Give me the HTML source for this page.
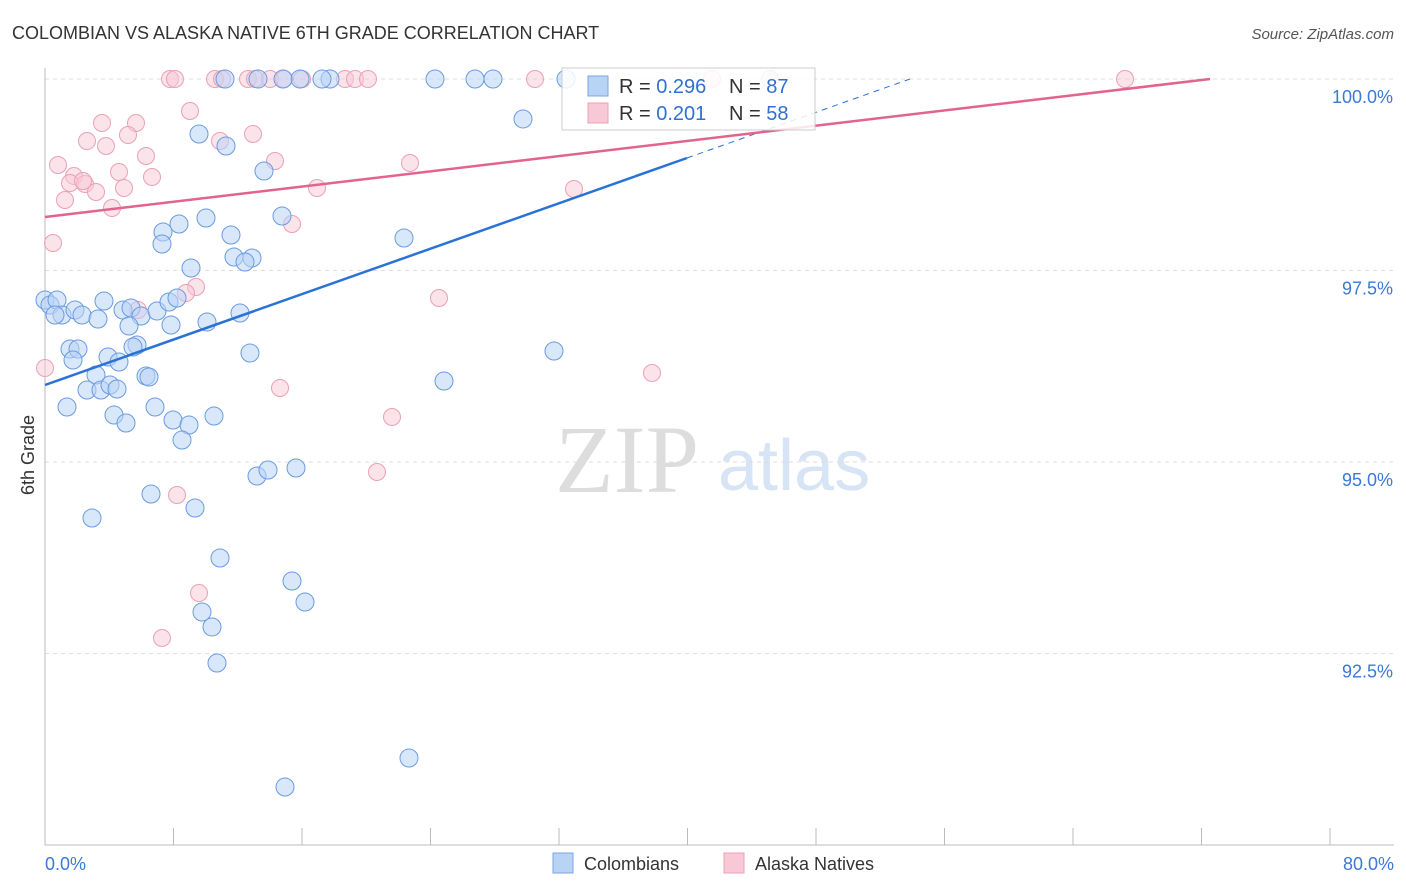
<!DOCTYPE html>
<html><head><meta charset="utf-8"><style>
body{margin:0;background:#fff;font-family:"Liberation Sans",sans-serif;}
</style></head><body>
<svg width="1406" height="892" id="chart" style="display:block">
<text x="12" y="39" font-size="18" fill="#333">COLOMBIAN VS ALASKA NATIVE 6TH GRADE CORRELATION CHART</text>
<text x="1394" y="39" font-size="15" fill="#555" text-anchor="end" font-style="italic">Source: ZipAtlas.com</text>
<text x="34" y="455" font-size="18" fill="#333" transform="rotate(-90 34 455)" text-anchor="middle">6th Grade</text>
<text x="555" y="492" font-size="96" fill="#ddd" font-family="Liberation Serif,serif">ZIP</text>
<text x="718" y="490" font-size="72" fill="#d6e4f5">atlas</text>
<g id="grid"></g><g id="axes"></g><g id="pts"></g><g id="lines"></g>
<g>
<rect x="562" y="68" width="253" height="62" fill="#fff" fill-opacity="0.85" stroke="#ccc"/>
<rect x="588" y="76" width="20" height="20" fill="#b9d3f5" stroke="#7aa6e0"/>
<text x="619" y="93" font-size="20" fill="#333">R = <tspan fill="#3070d0">0.296</tspan></text>
<text x="729" y="93" font-size="20" fill="#333">N = <tspan fill="#3070d0">87</tspan></text>
<rect x="588" y="103" width="20" height="20" fill="#f8c8d6" stroke="#eba0b6"/>
<text x="619" y="120" font-size="20" fill="#333">R = <tspan fill="#3070d0">0.201</tspan></text>
<text x="729" y="120" font-size="20" fill="#333">N = <tspan fill="#3070d0">58</tspan></text>
</g>
<g>
<rect x="553" y="853" width="20" height="20" fill="#b9d3f5" stroke="#7aa6e0"/>
<text x="584" y="870" font-size="18" fill="#333">Colombians</text>
<rect x="724" y="853" width="20" height="20" fill="#f8c8d6" stroke="#eba0b6"/>
<text x="755" y="870" font-size="18" fill="#333">Alaska Natives</text>
</g>
</svg>
<script>
const yTicks=[100,97.5,95,92.5];
const yTickLabels=["100.0%","97.5%","95.0%","92.5%"];
const blueX=[566,435,475,493,330,322,300,258,225,283,523,199,226,264,282,206,179,163,231,162,404,234,252,245,191,45,50,57,62,55,75,82,98,104,123,131,141,157,169,177,129,171,207,240,70,78,137,133,250,554,73,108,119,96,146,149,444,87,101,110,117,67,155,114,126,173,189,214,182,257,268,296,151,195,92,220,292,202,305,212,217,409,285].map(p=>(p-45)/1285*80);
const blueY=[79,79,79,79,79,79,79,79,79,79,119,134,146,171,216,218,224,232,235,244,238,257,258,262,268,300,305,300,315,315,310,315,319,301,310,308,316,311,302,298,326,325,322,313,349,349,345,347,353,351,360,357,362,375,376,377,381,390,390,385,389,407,407,415,423,420,425,416,440,476,470,468,494,508,518,558,581,612,602,627,663,758,787].map(p=>100-(p-79)/191.5*2.5);
const pinkX=[170,175,215,222,248,255,270,284,302,345,355,368,535,712,770,1125,190,102,136,253,128,87,106,220,146,58,275,410,119,152,74,70,85,83,96,124,317,574,65,112,292,53,196,186,138,439,45,652,280,392,377,177,199,162].map(p=>(p-45)/1285*80);
const pinkY=[79,79,79,79,79,79,79,79,79,79,79,79,79,79,79,79,111,123,123,134,135,141,146,141,156,165,161,163,172,177,176,183,184,181,192,188,188,189,200,208,224,243,287,293,310,298,368,373,388,417,472,495,593,638].map(p=>100-(p-79)/191.5*2.5);
const X=v=>45+v/80*1285, Y=v=>79+(100-v)/2.5*191.5;
const NS="http://www.w3.org/2000/svg";
function mk(t,a,parent){const e=document.createElementNS(NS,t);for(const k in a)e.setAttribute(k,a[k]);document.getElementById(parent).appendChild(e);return e;}
yTicks.forEach((v,i)=>{
 const l=mk('line',{x1:45,x2:1394,y1:Y(v),y2:Y(v),stroke:'#ddd','stroke-dasharray':'4,4'},'grid');
 
 
 const t=mk('text',{x:1393,y:Y(v)+24,'font-size':18,fill:'#3b78d8','text-anchor':'end'},'grid');
 t.textContent=yTickLabels[i];
 
 
});
const ax=mk('line',{x1:45,x2:45,y1:68,y2:845,stroke:'#bbb'},'axes');


const bx=mk('line',{x1:45,x2:1394,y1:845,y2:845,stroke:'#bbb'},'axes');


for(let i=1;i<=10;i++){const tk=mk('line',{x1:X(i*8),x2:X(i*8),y1:828,y2:845,stroke:'#bbb'},'axes');
 
 }
[[45,'start','0.0%'],[1394,'end','80.0%']].forEach(a=>{const t=mk('text',{x:a[0],y:870,'font-size':18,fill:'#3b78d8','text-anchor':a[1]},'axes');t.textContent=a[2];
 
 });
pinkX.forEach((x,i)=>{const c=mk('circle',{cx:X(x),cy:Y(pinkY[i]),r:8.5,fill:'#f8c8d6','fill-opacity':0.5,stroke:'#eba0b6'},'pts');
 
 });
blueX.forEach((x,i)=>{const c=mk('circle',{cx:X(x),cy:Y(blueY[i]),r:9,fill:'#b9d3f5','fill-opacity':0.55,stroke:'#6a9be0'},'pts');
 
 });
const bl=mk('line',{x1:45,y1:385,x2:687,y2:158,stroke:'#2a72d6','stroke-width':2.5},'lines');


const bd=mk('line',{x1:687,y1:158,x2:910,y2:79,stroke:'#2a72d6','stroke-width':1,'stroke-dasharray':'6,5'},'lines');


const pl=mk('line',{x1:45,y1:217,x2:1210,y2:79,stroke:'#e2638f','stroke-width':2.5},'lines');


</script>
</body></html>
